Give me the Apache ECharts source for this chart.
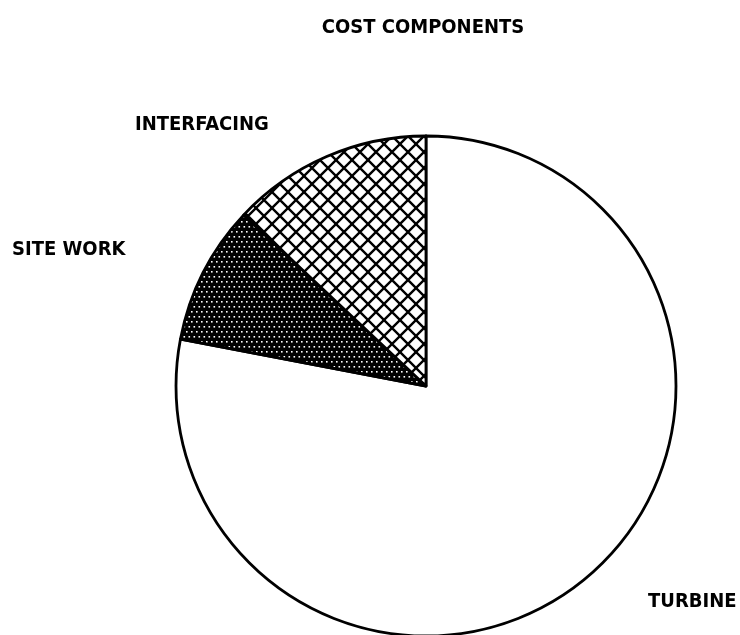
<!DOCTYPE html>
<html>
<head>
<meta charset="utf-8">
<script src="https://cdn.jsdelivr.net/npm/echarts@6/dist/echarts.min.js"></script>
<style>
  html, body { margin: 0; padding: 0; background: #fff; }
  #main { width: 740px; height: 635px; }
</style>
</head>
<body>
<div id="main"></div>
<script>
var categories = ['TURBINE', 'SITE WORK', 'INTERFACING'];
var shares = [78, 9, 13];

// where each label sits on the page
var labelSpots = {
    'TURBINE': [648, 602],
    'SITE WORK': [12, 250],
    'INTERFACING': [135, 125]
};

var FONT = "'Liberation Sans Narrow', 'DejaVu Sans Condensed', 'Roboto', sans-serif";

function crossHatch() {
    var s = 16;
    var c = document.createElement('canvas');
    c.width = s; c.height = s;
    var g = c.getContext('2d');
    g.fillStyle = '#fff';
    g.fillRect(0, 0, s, s);
    g.strokeStyle = '#000';
    g.lineWidth = 2.4;
    for (var k = -1; k <= 1; k++) {
        g.beginPath();
        g.moveTo(-2 + k * s, -2);
        g.lineTo(s + 2 + k * s, s + 2);
        g.moveTo(s + 2 + k * s, -2);
        g.lineTo(-2 + k * s, s + 2);
        g.stroke();
    }
    return c;
}

function dots() {
    var c = document.createElement('canvas');
    c.width = 10; c.height = 10;
    var g = c.getContext('2d');
    g.fillStyle = '#000';
    g.fillRect(0, 0, 10, 10);
    g.fillStyle = '#fff';
    g.fillRect(1, 1, 1.6, 1.6);
    g.fillRect(6, 1, 1.6, 1.6);
    g.fillRect(3.5, 6, 1.6, 1.6);
    g.fillRect(8.5, 6, 1.6, 1.6);
    g.fillRect(-1.5, 6, 1.6, 1.6);
    return c;
}

var fills = {
    'TURBINE': '#ffffff',
    'SITE WORK': { image: dots(), repeat: 'repeat' },
    'INTERFACING': { image: crossHatch(), repeat: 'repeat' }
};

var chart = echarts.init(document.getElementById('main'), null, { renderer: 'canvas' });
var option = {
    backgroundColor: '#ffffff',
    animation: false,
    title: {
        text: 'COST COMPONENTS',
        left: 418,
        top: 13,
        textAlign: 'center',
        textStyle: {
            fontFamily: FONT,
            fontWeight: 'bold',
            fontSize: 20,
            color: '#000'
        }
    },
    series: [
        {
            type: 'pie',
            center: [426, 386],
            radius: 250,
            startAngle: 90,
            clockwise: true,
            avoidLabelOverlap: false,
            emphasis: { disabled: true },
            itemStyle: {
                borderColor: '#000',
                borderWidth: 2.8
            },
            label: {
                show: true,
                position: 'outside',
                formatter: '{b}',
                fontFamily: FONT,
                fontWeight: 'bold',
                fontSize: 20,
                color: '#000'
            },
            labelLine: { show: false },
            labelLayout: function (params) {
                var p = labelSpots[categories[params.dataIndex]];
                return { x: p[0], y: p[1], align: 'left', verticalAlign: 'middle' };
            },
            data: categories.map(function (name, i) {
                return {
                    name: name,
                    value: shares[i],
                    itemStyle: { color: fills[name] }
                };
            })
        }
    ]
};
chart.setOption(option);
</script>
</body>
</html>
